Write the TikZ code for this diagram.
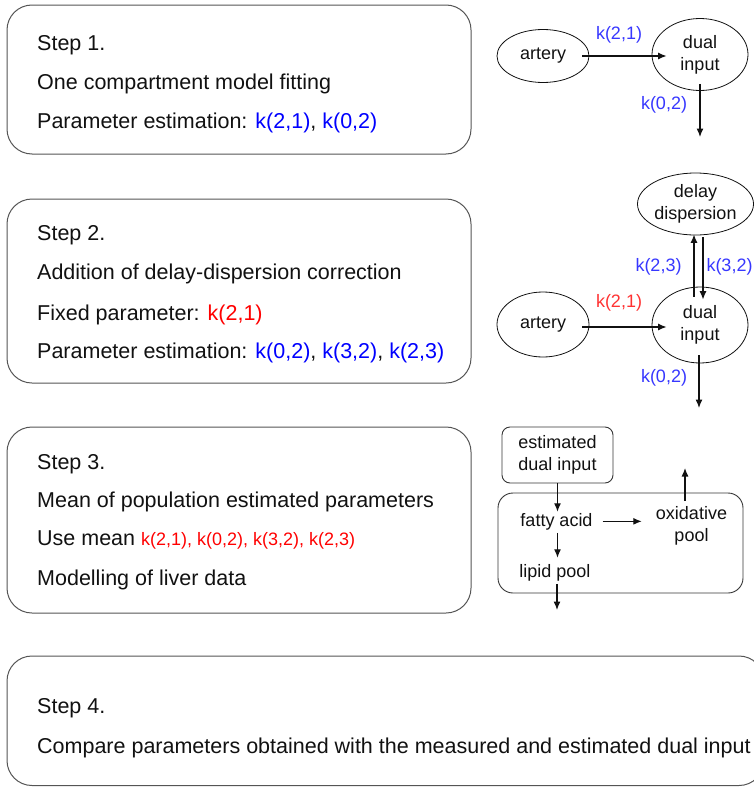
\documentclass[tikz,border=0pt]{standalone}
\usepackage{fontspec}
\setmainfont{Liberation Sans}
\usetikzlibrary{arrows.meta,calc,shapes.geometric}

\definecolor{parblue}{RGB}{0,0,255}
\definecolor{parred}{RGB}{255,0,0}
\definecolor{diagblue}{RGB}{55,55,255}
\definecolor{diagred}{RGB}{255,50,50}
\definecolor{ink}{RGB}{17,17,17}
\definecolor{frame}{RGB}{85,85,85}

\begin{document}
\begin{tikzpicture}[x=1pt,y=-1pt,
  stepbox/.style={draw=frame, line width=1pt, rounded corners=25pt},
  steptext/.style={anchor=base west, inner sep=0pt, text=ink,
    font=\fontsize{21.5}{26}\selectfont},
  comp/.style={ellipse, draw=ink, line width=0.8pt, inner sep=0pt,
    align=center, text=ink, font=\fontsize{18}{22}\selectfont},
  klabel/.style={inner sep=0pt, font=\fontsize{18}{22}\selectfont},
  pooltext/.style={inner sep=1pt, align=center, text=ink,
    font=\fontsize{18}{22}\selectfont},
  poolbox/.style={draw=ink!85, line width=0.9pt, align=center, text=ink,
    font=\fontsize{18}{22}\selectfont},
  arr/.style={-{Latex[length=8.5pt,width=7pt]}, line width=1.2pt, draw=ink},
]
\useasboundingbox (0,0) rectangle (754,787);
\clip (0,0) rectangle (754,787);

% ---------- step boxes ----------
\draw[stepbox] (7,5) rectangle (471,154);
\draw[stepbox] (7,199) rectangle (471,383);
\draw[stepbox] (7,427) rectangle (471,613);
\draw[stepbox] (7,656) rectangle (764,785.5);

% ---------- step 1 ----------
\node[steptext] (s1a) at (37,50) {Step 1.};
\node[steptext] (s1b) at (37,89) {One compartment model fitting};
\node[steptext] (s1c) at (37,128) {Parameter estimation: {\color{parblue}k(2,1)}, {\color{parblue}k(0,2)}};

% ---------- step 2 ----------
\node[steptext] (s2a) at (37,240) {Step 2.};
\node[steptext] (s2b) at (37,279) {Addition of delay-dispersion correction};
\node[steptext] (s2c) at (37,320) {Fixed parameter: {\color{parred}k(2,1)}};
\node[steptext] (s2d) at (37,358) {Parameter estimation: {\color{parblue}k(0,2)}, {\color{parblue}k(3,2)}, {\color{parblue}k(2,3)}};

% ---------- step 3 ----------
\node[steptext] (s3a) at (37,469) {Step 3.};
\node[steptext] (s3b) at (37,507) {Mean of population estimated parameters};
\node[steptext] (s3c) at (37,545) {Use mean {\color{parred}\fontsize{18}{22}\selectfont k(2,1), k(0,2), k(3,2), k(2,3)}};
\node[steptext] (s3d) at (37,585) {Modelling of liver data};

% ---------- step 4 ----------
\node[steptext] (s4a) at (37,713) {Step 4.};
\node[steptext] (s4b) at (37,753) {Compare parameters obtained with the measured and estimated dual input};

% ---------- model 1: one compartment ----------
\node[comp, minimum width=92pt, minimum height=53pt] (art1) at (543,56) {artery};
\node[comp, minimum width=96pt, minimum height=72pt] (dual1) at (700,54.5) {dual\\input};
\draw[arr, shorten <=-7pt, shorten >=-15pt] (art1.east) -- (art1.east -| dual1.west);
\node[klabel, text=diagblue] (k21a) at (619,35) {k(2,1)};
\coordinate (out1) at (700,137);
\draw[arr] ($(dual1.south)+(0,-7)$) -- (out1);
\node[klabel, text=diagblue] (k02a) at (664,105) {k(0,2)};

% ---------- model 2: with delay-dispersion ----------
\node[comp, minimum width=111pt, minimum height=62pt] (delay) at (695.5,204) {delay\\dispersion};
\node[comp, minimum width=92pt, minimum height=65pt] (art2) at (543,324.5) {artery};
\node[comp, minimum width=96pt, minimum height=76pt] (dual2) at (700,325) {dual\\input};
\draw[arr, shorten <=-7pt, shorten >=-15pt] ($(art2.east)+(0,2.5)$) -- ($(art2.east -| dual2.west)+(0,2.5)$);
\node[klabel, text=diagred] (k21b) at (619,303) {k(2,1)};
\draw[arr] ($(dual2.north)+(-6,10)$) -- ($(delay.south)+(-1.5,-1)$);
\draw[arr] ($(delay.south)+(7.5,2)$) -- ($(dual2.north)+(3,13)$);
\node[klabel, text=diagblue] (k23) at (658.5,267) {k(2,3)};
\node[klabel, text=diagblue] (k32) at (729.5,267) {k(3,2)};
\coordinate (out2) at (699,408);
\draw[arr] ($(dual2.south)+(-1,-8)$) -- (out2);
\node[klabel, text=diagblue] (k02b) at (664,378) {k(0,2)};

% ---------- model 3: liver ----------
\node[poolbox, rounded corners=8pt, minimum width=111pt, minimum height=56pt] (est) at (557.5,455) {estimated\\dual input};
\node[poolbox, rounded corners=15pt, minimum width=245pt, minimum height=100pt] (liver) at (620.5,543) {};
\node[pooltext, anchor=base] (fatty) at (556.5,526) {fatty acid};
\node[pooltext] (oxid) at (691.5,525.5) {oxidative\\pool};
\node[pooltext, anchor=base] (lipid) at (555,577) {lipid pool};
\draw[arr] (est.south) -- (est.south |- fatty.north);
\draw[arr, shorten <=9pt, shorten >=13pt] (fatty.east) -- (fatty.east -| oxid.west);
\coordinate (oxout) at (685,468);
\draw[arr] ($(oxid.north -| oxout)+(0,-4)$) -- (oxout);
\draw[arr, shorten <=2pt, shorten >=5pt] (fatty.south -| est.south) -- (lipid.north -| est.south);
\coordinate (lipout) at (557,610);
\draw[arr] ($(lipid.south -| lipout)+(0,2)$) -- (lipout);
\end{tikzpicture}
\end{document}
